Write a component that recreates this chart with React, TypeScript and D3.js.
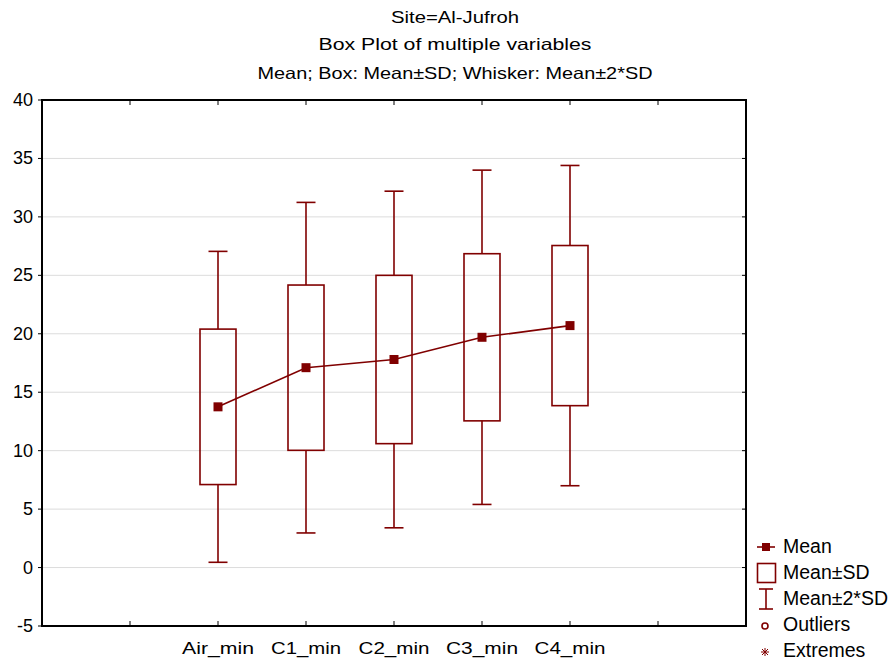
import React from "react";
import * as d3 from "d3";

const categories = ["Air_min", "C1_min", "C2_min", "C3_min", "C4_min"];
const means = [13.75, 17.1, 17.8, 19.7, 20.7];
const sds = [6.65, 7.07, 7.2, 7.15, 6.85];
const yTicks = [-5, 0, 5, 10, 15, 20, 25, 30, 35, 40];
const titleLines = [
  "Site=Al-Jufroh",
  "Box Plot of multiple variables",
  "Mean; Box: Mean±SD; Whisker: Mean±2*SD",
];
const legendLabels = ["Mean", "Mean±SD", "Mean±2*SD", "Outliers", "Extremes"];

const W = 893;
const H = 661;
const COLOR = "#800000";
const SANS = "'Liberation Sans', Arial, sans-serif";
const titleWidths = [128, 273, 395];
const catWidths = [72, 70, 71, 72, 71];

export default function App() {
  const x = d3.scaleLinear().domain([0, categories.length + 3]).range([42, 746]);
  const y = d3.scaleLinear().domain([-5, 40]).range([626, 100]);
  const xSlots = d3.range(1, categories.length + 3);
  const boxW = 36;
  const capW = 19;
  const line = d3
    .line<number>()
    .x((_, i) => x(i + 2))
    .y((d) => y(d));

  const [x0, x1] = x.range();
  const [yb, yt] = y.range();

  return (
    <svg
      width={W}
      height={H}
      style={{ position: "absolute", left: 0, top: 0, background: "#fff" }}
    >
      <rect x={0} y={0} width={W} height={H} fill="#fff" />
      {titleLines.map((t, i) => (
        <text
          key={t}
          x={455 - titleWidths[i] / 2}
          y={[23, 50, 79][i]}
          textLength={titleWidths[i]}
          lengthAdjust="spacingAndGlyphs"
          fontFamily={SANS}
          fontSize={16.5}
          fill="#000"
        >
          {t}
        </text>
      ))}
      {yTicks.map((t) => (
        <line key={"g" + t} x1={x0} x2={x1} y1={y(t)} y2={y(t)} stroke="#dcdcdc" strokeWidth={1} />
      ))}
      {yTicks.map((t) => (
        <g key={"yt" + t}>
          <line x1={x0 - 4} x2={x0} y1={y(t)} y2={y(t)} stroke="#000" strokeWidth={1} />
          <line x1={x1 - 4} x2={x1} y1={y(t)} y2={y(t)} stroke="#000" strokeWidth={1} />
          <text x={33} y={y(t) + 6} textAnchor="end" fontFamily={SANS} fontSize={18} fill="#000">
            {t}
          </text>
        </g>
      ))}
      {xSlots.map((s) => (
        <g key={"xt" + s}>
          <line x1={x(s)} x2={x(s)} y1={yb} y2={yb - 5} stroke="#000" strokeWidth={1} />
          <line x1={x(s)} x2={x(s)} y1={yt} y2={yt + 5} stroke="#000" strokeWidth={1} />
        </g>
      ))}
      {categories.map((c, i) => (
        <text
          key={c}
          x={x(i + 2) - catWidths[i] / 2}
          y={654}
          textLength={catWidths[i]}
          lengthAdjust="spacingAndGlyphs"
          fontFamily={SANS}
          fontSize={16.5}
          fill="#000"
        >
          {c}
        </text>
      ))}
      {categories.map((c, i) => {
        const cx = x(i + 2);
        const m = means[i];
        const s = sds[i];
        return (
          <g key={"b" + c} stroke={COLOR} strokeWidth={1.6} fill="none">
            <line x1={cx} x2={cx} y1={y(m + s)} y2={y(m + 2 * s)} />
            <line x1={cx} x2={cx} y1={y(m - s)} y2={y(m - 2 * s)} />
            <line x1={cx - capW / 2} x2={cx + capW / 2} y1={y(m + 2 * s)} y2={y(m + 2 * s)} />
            <line x1={cx - capW / 2} x2={cx + capW / 2} y1={y(m - 2 * s)} y2={y(m - 2 * s)} />
            <rect x={cx - boxW / 2} y={y(m + s)} width={boxW} height={y(m - s) - y(m + s)} />
          </g>
        );
      })}
      <path d={line(means) || ""} fill="none" stroke={COLOR} strokeWidth={1.6} />
      {means.map((m, i) => (
        <rect key={"m" + i} x={x(i + 2) - 4.5} y={y(m) - 4.5} width={9} height={9} fill={COLOR} />
      ))}
      <rect x={x0} y={yt} width={x1 - x0} height={yb - yt} fill="none" stroke="#000" strokeWidth={2} />
      <g>
        <line x1={757} x2={775} y1={547} y2={547} stroke={COLOR} strokeWidth={1.6} />
        <rect x={762} y={543} width={8} height={8} fill={COLOR} />
        <rect x={757.5} y={563.5} width={18} height={19} fill="none" stroke={COLOR} strokeWidth={1.6} />
        <line x1={759} x2={773} y1={589} y2={589} stroke={COLOR} strokeWidth={1.6} />
        <line x1={759} x2={773} y1={609} y2={609} stroke={COLOR} strokeWidth={1.6} />
        <line x1={766} x2={766} y1={589} y2={609} stroke={COLOR} strokeWidth={1.6} />
        <circle cx={765} cy={626} r={3} fill="none" stroke={COLOR} strokeWidth={1.6} />
        <g stroke={COLOR} strokeWidth={1}>
          <line x1={761} x2={769} y1={652} y2={652} />
          <line x1={765} x2={765} y1={648} y2={656} />
          <line x1={762} x2={768} y1={649} y2={655} />
          <line x1={768} x2={762} y1={649} y2={655} />
        </g>
        {legendLabels.map((l, i) => (
          <text key={l} x={783} y={553 + i * 26} fontFamily={SANS} fontSize={19.5} fill="#000">
            {l}
          </text>
        ))}
      </g>
    </svg>
  );
}
